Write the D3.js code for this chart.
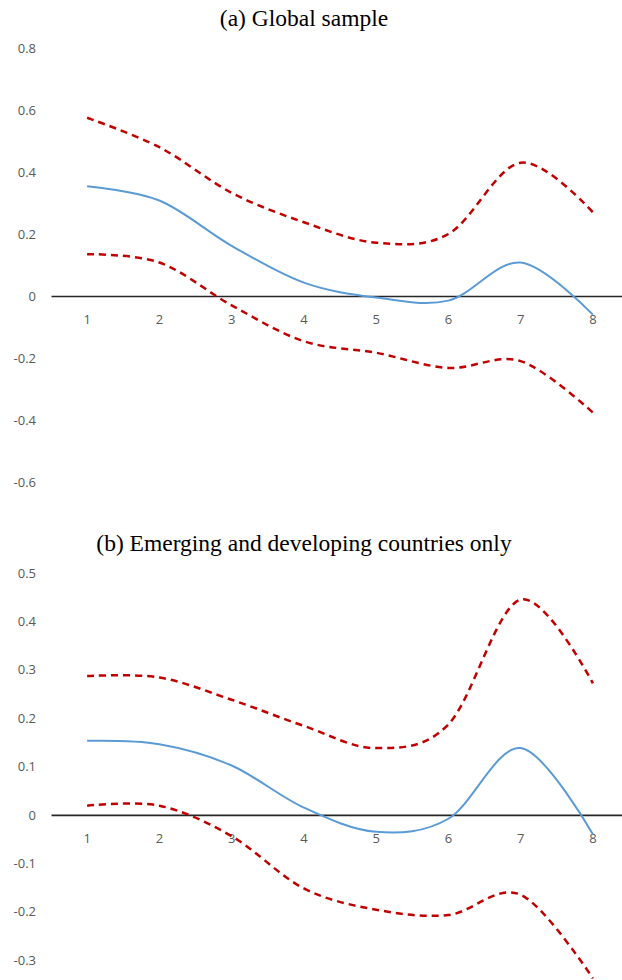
<!DOCTYPE html>
<html lang="en">
<head>
    <meta charset="UTF-8">
    <script src="https://d3js.org/d3.v7.min.js"></script>
    <style>
        body {
            margin: 0;
            background: #fff;
            overflow: hidden;
        }
        .title {
            font-family: "Liberation Serif", "Times New Roman", serif;
            font-size: 23.5px;
            fill: #000;
            text-anchor: middle;
        }
        .tick text {
            font-family: "Open Sans", Arial, sans-serif;
            font-size: 13px;
            fill: #595959;
        }
    </style>
</head>
<body>
    <svg id="chart"></svg>

    <script>
        // horizon (1..8) on the x axis
        const categories = [1, 2, 3, 4, 5, 6, 7, 8];

        // (a) Global sample
        const globalEst   = [0.354, 0.308, 0.162, 0.043, -0.005, -0.015, 0.108, -0.06];
        const globalUpper = [0.575, 0.48, 0.333, 0.238, 0.172, 0.2, 0.43, 0.27];
        const globalLower = [0.135, 0.108, -0.03, -0.146, -0.183, -0.232, -0.21, -0.376];
        const globalTicks = [0.8, 0.6, 0.4, 0.2, 0, -0.2, -0.4, -0.6];

        // (b) Emerging and developing countries only
        const emergEst   = [0.153, 0.146, 0.102, 0.015, -0.035, -0.008, 0.138, -0.04];
        const emergUpper = [0.287, 0.284, 0.238, 0.184, 0.138, 0.187, 0.445, 0.272];
        const emergLower = [0.019, 0.019, -0.044, -0.152, -0.196, -0.207, -0.165, -0.338];
        const emergTicks = [0.5, 0.4, 0.3, 0.2, 0.1, 0, -0.1, -0.2, -0.3];

        const width = 622, height = 980;

        const svg = d3.select("#chart")
            .attr("width", width)
            .attr("height", height);

        const x = d3.scaleBand()
            .domain(categories)
            .range([51, 629]);

        function drawPanel(cfg) {
            const g = svg.append("g");

            g.append("text")
                .attr("class", "title")
                .attr("x", 304)
                .attr("y", cfg.titleY)
                .text(cfg.title);

            const y = d3.scaleLinear()
                .domain([d3.min(cfg.ticks), d3.max(cfg.ticks)])
                .range([cfg.bottom, cfg.top]);

            // y labels only, no axis line
            g.append("g")
                .attr("transform", "translate(36,0)")
                .call(d3.axisLeft(y).tickValues(cfg.ticks).tickSize(0).tickPadding(0)
                    .tickFormat(d => d === 0 ? "0" : d3.format(".1f")(d).replace("−", "-")))
                .call(a => a.select(".domain").remove());

            // category axis through zero
            const xa = g.append("g")
                .attr("transform", `translate(0,${y(0)})`)
                .call(d3.axisBottom(x).tickSize(0).tickPadding(19));
            xa.select(".domain")
                .attr("stroke", "#262626")
                .attr("stroke-width", 1.6);

            const line = d3.line()
                .x((d, i) => x(categories[i]) + x.bandwidth() / 2)
                .y(d => y(d))
                .curve(d3.curveCatmullRom.alpha(0));

            g.append("path")
                .datum(cfg.upper)
                .attr("fill", "none")
                .attr("stroke", "#C00000")
                .attr("stroke-width", 2.5)
                .attr("stroke-dasharray", "7,5")
                .attr("d", line);

            g.append("path")
                .datum(cfg.lower)
                .attr("fill", "none")
                .attr("stroke", "#C00000")
                .attr("stroke-width", 2.5)
                .attr("stroke-dasharray", "7,5")
                .attr("d", line);

            g.append("path")
                .datum(cfg.est)
                .attr("fill", "none")
                .attr("stroke", "#5B9BD5")
                .attr("stroke-width", 2)
                .attr("d", line);
        }

        drawPanel({
            title: "(a)  Global sample",
            titleY: 26,
            ticks: globalTicks,
            top: 48, bottom: 482,
            est: globalEst, upper: globalUpper, lower: globalLower
        });

        drawPanel({
            title: "(b)  Emerging and developing countries only",
            titleY: 551,
            ticks: emergTicks,
            top: 573, bottom: 960,
            est: emergEst, upper: emergUpper, lower: emergLower
        });
    </script>
</body>
</html>
